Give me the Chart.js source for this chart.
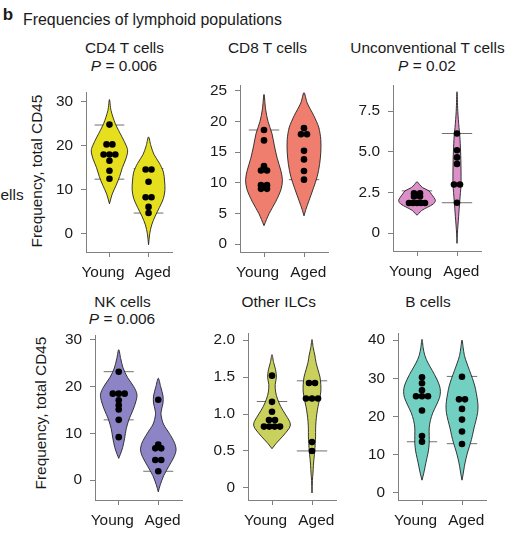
<!DOCTYPE html>
<html><head><meta charset="utf-8">
<script src="https://cdn.jsdelivr.net/npm/chart.js@4.4.1/dist/chart.umd.min.js"></script>
<style>
html,body{margin:0;padding:0;background:#fff;}
body{width:508px;height:537px;position:relative;overflow:hidden;font-family:"Liberation Sans",Arial,Helvetica,sans-serif;color:#1a1a1a;}
.t{position:absolute;white-space:nowrap;line-height:1;transform:translate(-50%,-50%);font-size:15.4px;}
.tl{position:absolute;white-space:nowrap;line-height:1;transform:translate(0,-50%);font-size:15.4px;}
.r{transform:translate(-50%,-50%) rotate(-90deg);}
canvas{position:absolute;}
</style></head><body>
<div class="t" style="left:8px;top:14px;font-weight:bold;font-size:17px;">b</div>
<div class="tl" style="left:23px;top:20px;font-size:15.9px;">Frequencies of lymphoid populations</div>
<div class="tl" style="left:0.5px;top:195px;">ells</div>
<div class="t r" style="left:36.5px;top:171px;">Frequency, total CD45</div>
<div class="t r" style="left:41px;top:413px;">Frequency, total CD45</div>
<div id="texts"></div>
<script>
// ---- categories ----
const groups = ['Young', 'Aged'];

// ---- CD4 T cells ----
const cd4YoungPts = [24.8, 20.3, 20.3, 18.0, 18.0, 18.0, 16.6, 14.3, 12.5];
const cd4AgedPts = [14.6, 14.6, 11.8, 8.3, 8.3, 6.1, 4.7];
const cd4YoungViolin = [[6.8,0],[9,0.07],[11,0.17],[13,0.26],[15,0.33],[17,0.42],[18.8,0.466],[20,0.43],[22,0.32],[25,0.15],[28,0.04],[30.5,0]];
const cd4AgedViolin = [[-2.5,0],[0,0.03],[2,0.08],[4,0.17],[6,0.28],[8,0.38],[10,0.42],[12,0.41],[14,0.38],[16,0.28],[18,0.14],[20,0.06],[22,0]];
const cd4YoungLines = [12.4, 24.7];
const cd4AgedLines = [4.7, 14.8];
const cd4Ticks = [0, 10, 20, 30];

// ---- CD8 T cells ----
const cd8YoungPts = [18.6, 16.9, 12.7, 12.0, 12.0, 9.6, 9.6, 9.0, 9.0];
const cd8AgedPts = [18.9, 17.9, 17.9, 15.2, 13.8, 11.9, 10.5];
const cd8YoungViolin = [[3.0,0],[5,0.13],[7,0.3],[9,0.43],[10.5,0.46],[12,0.42],[14,0.33],[16,0.26],[18,0.2],[20,0.1],[22,0.04],[24.4,0]];
const cd8AgedViolin = [[4.6,0],[5.5,0.04],[7,0.12],[9,0.23],[11,0.33],[13,0.39],[15,0.42],[17,0.42],[19,0.37],[21,0.24],[23,0.08],[24.7,0]];
const cd8YoungLines = [9.0, 18.6];
const cd8AgedLines = [10.5, 18.9];
const cd8Ticks = [0, 5, 10, 15, 20, 25];

// ---- Unconventional T cells ----
const unYoungPts = [2.45, 2.45, 2.25, 2.25, 1.85, 1.85, 1.85, 1.85, 1.85];
const unAgedPts = [6.13, 5.1, 4.66, 4.26, 2.99, 2.99, 1.87];
const unYoungViolin = [[1.1,0],[1.2,0.04],[1.4,0.12],[1.6,0.27],[1.8,0.41],[2.0,0.46],[2.2,0.42],[2.4,0.36],[2.6,0.30],[2.8,0.14],[3.0,0.06],[3.16,0]];
const unAgedViolin = [[-0.63,0],[0,0.01],[1,0.04],[2,0.07],[3,0.1],[4,0.1],[5,0.09],[6,0.07],[6.5,0.05],[7.5,0.02],[8.7,0]];
const unYoungLines = [1.85, 2.6];
const unAgedLines = [1.87, 6.13];
const unTicks = [0, 2.5, 5.0, 7.5];

// ---- NK cells ----
const nkYoungPts = [23.2, 18.5, 18.5, 18.5, 17.1, 16.0, 15.1, 12.9, 9.2];
const nkAgedPts = [17.2, 7.6, 6.8, 6.8, 4.3, 4.3, 1.9];
const nkYoungViolin = [[4.66,0],[5.5,0.04],[7,0.10],[9,0.15],[11,0.19],[13,0.26],[15,0.36],[17,0.44],[18.4,0.46],[20,0.38],[22,0.22],[24,0.11],[26,0.05],[27.9,0]];
const nkAgedViolin = [[-2.5,0],[-1,0.05],[1,0.14],[3,0.27],[5,0.40],[6.5,0.45],[8,0.41],[10,0.28],[12,0.13],[14,0.07],[15,0.08],[16.5,0.12],[18,0.12],[20,0.06],[21.8,0]];
const nkYoungLines = [12.9, 23.2];
const nkAgedLines = [1.9, 7.6];
const nkTicks = [0, 10, 20, 30];

// ---- Other ILCs ----
const ilcYoungPts = [1.52, 1.165, 1.03, 0.92, 0.92, 0.83, 0.83, 0.83, 0.83];
const ilcAgedPts = [1.42, 1.42, 1.21, 1.21, 1.21, 0.62, 0.5];
const ilcYoungViolin = [[0.53,0],[0.6,0.10],[0.7,0.27],[0.8,0.42],[0.85,0.46],[0.9,0.44],[1.0,0.33],[1.1,0.22],[1.2,0.14],[1.3,0.09],[1.4,0.08],[1.5,0.11],[1.6,0.09],[1.7,0.04],[1.805,0]];
const ilcAgedViolin = [[-0.07,0],[0.1,0.01],[0.2,0.025],[0.3,0.035],[0.4,0.05],[0.5,0.07],[0.6,0.08],[0.7,0.09],[0.8,0.09],[0.9,0.10],[1.0,0.12],[1.1,0.15],[1.2,0.19],[1.3,0.22],[1.4,0.22],[1.5,0.20],[1.6,0.15],[1.7,0.10],[1.8,0.07],[1.9,0.03],[2.01,0]];
const ilcYoungLines = [0.83, 1.17];
const ilcAgedLines = [0.5, 1.45];
const ilcTicks = [0, 0.5, 1.0, 1.5, 2.0];

// ---- B cells ----
const bYoungPts = [30.3, 28.7, 26.9, 25.3, 25.3, 25.3, 21.6, 14.9, 13.4];
const bAgedPts = [30.4, 24.5, 24.5, 22.0, 19.2, 16.1, 12.8];
const bYoungViolin = [[3.35,0],[5,0.04],[7,0.08],[9,0.12],[11,0.16],[13,0.18],[15,0.18],[17,0.18],[19,0.21],[21,0.27],[23,0.36],[25,0.44],[26.5,0.46],[28,0.44],[30,0.36],[32,0.26],[34,0.15],[36,0.07],[38,0.03],[40.2,0]];
const bAgedViolin = [[3.35,0],[5,0.03],[7,0.06],[9,0.10],[11,0.15],[13,0.21],[15,0.26],[17,0.30],[19,0.35],[21,0.39],[22.5,0.40],[24,0.39],[26,0.36],[28,0.32],[30,0.26],[32,0.19],[34,0.12],[36,0.06],[38,0.03],[40,0]];
const bYoungLines = [13.4, 30.0];
const bAgedLines = [12.9, 30.5];
const bTicks = [0, 10, 20, 30, 40];

// ---- panel layout / style ----
const panels = [
  {title:'CD4 T cells', p:'0.006', tx:124.5, ty:48, color:'#e6df1e', area:{left:86, top:85, w:86, h:167}, yMin:-4.15, yMax:32.15, ticks:cd4Ticks, dec:0,
   pts:[cd4YoungPts, cd4AgedPts], vio:[cd4YoungViolin, cd4AgedViolin], lines:[cd4YoungLines, cd4AgedLines]},
  {title:'CD8 T cells', p:null, tx:267.5, ty:48, color:'#ef7e6f', area:{left:240, top:78, w:88, h:174}, yMin:-1.3, yMax:25.9, ticks:cd8Ticks, dec:0,
   pts:[cd8YoungPts, cd8AgedPts], vio:[cd8YoungViolin, cd8AgedViolin], lines:[cd8YoungLines, cd8AgedLines]},
  {title:'Unconventional T cells', p:'0.02', tx:427.5, ty:48, color:'#dc8fc8', area:{left:393, top:78, w:88, h:173}, yMin:-1.1, yMax:9.1, ticks:unTicks, dec:1,
   pts:[unYoungPts, unAgedPts], vio:[unYoungViolin, unAgedViolin], lines:[unYoungLines, unAgedLines]},
  {title:'NK cells', p:'0.006', tx:122.5, ty:301.5, color:'#8d84c6', area:{left:95, top:328, w:87, h:172}, yMin:-4.25, yMax:31.0, ticks:nkTicks, dec:0,
   pts:[nkYoungPts, nkAgedPts], vio:[nkYoungViolin, nkAgedViolin], lines:[nkYoungLines, nkAgedLines]},
  {title:'Other ILCs', p:null, tx:278.7, ty:301.5, color:'#c9d05b', area:{left:248, top:326, w:88, h:174}, yMin:-0.165, yMax:2.095, ticks:ilcTicks, dec:1,
   pts:[ilcYoungPts, ilcAgedPts], vio:[ilcYoungViolin, ilcAgedViolin], lines:[ilcYoungLines, ilcAgedLines]},
  {title:'B cells', p:null, tx:428, ty:301.5, color:'#72d0c2', area:{left:398, top:326, w:88, h:174}, yMin:-1.84, yMax:41.8, ticks:bTicks, dec:0,
   pts:[bYoungPts, bAgedPts], vio:[bYoungViolin, bAgedViolin], lines:[bYoungLines, bAgedLines]}
];

const AXIS = '#808080';
const TXT = '#1a1a1a';
const FONT = {family:'"Liberation Sans", Arial, Helvetica, sans-serif', size:15.4};
const PADL = 60, PADT = 10, PADR = 12, PADB = 40;
const LINE_HALF = 0.38;
// x tick labels sit slightly outward from their ticks in the reference
const labelText = ['Young   ', '  Aged'];

function violinPath(center, shape) {
  const right = shape.map(([y, w]) => ({x: center + w, y}));
  const left = shape.slice().reverse().map(([y, w]) => ({x: center - w, y}));
  return right.concat(left.slice(1));
}
function dotPath(center, vals) {
  const counts = {}, seen = {};
  vals.forEach(v => { counts[v] = (counts[v] || 0) + 1; });
  return vals.map(v => {
    const n = counts[v];
    const i = seen[v] = (seen[v] === undefined ? 0 : seen[v] + 1);
    const s = n <= 3 ? 0.15 : 0.4 / (n - 1);
    return {x: center + (i - (n - 1) / 2) * s, y: v};
  });
}

const texts = document.getElementById('texts');
panels.forEach((P, k) => {
  const t = document.createElement('div');
  t.className = 't'; t.style.left = P.tx + 'px'; t.style.top = P.ty + 'px'; t.textContent = P.title;
  texts.appendChild(t);
  if (P.p) {
    const p = document.createElement('div');
    p.className = 't'; p.style.left = (P.tx - 0.5) + 'px'; p.style.top = (P.ty + 17.5) + 'px';
    p.innerHTML = '<i>P</i> = ' + P.p;
    texts.appendChild(p);
  }
  const cv = document.createElement('canvas');
  const W = PADL + P.area.w + PADR, H = PADT + P.area.h + PADB;
  cv.width = W; cv.height = H;
  cv.style.left = (P.area.left - PADL) + 'px';
  cv.style.top = (P.area.top - PADT) + 'px';
  cv.style.width = W + 'px'; cv.style.height = H + 'px';
  document.body.appendChild(cv);

  const datasets = [];
  groups.forEach((g, gi) => {
    const c = gi + 1;
    P.lines[gi].forEach(v => datasets.push({
      type:'line', data:[{x:c - LINE_HALF, y:v}, {x:c + LINE_HALF, y:v}],
      borderColor:'#707070', borderWidth:1, pointRadius:0, fill:false, order:3
    }));
    datasets.push({
      type:'line', data: violinPath(c, P.vio[gi]), borderColor:'#222', borderWidth:0.9,
      backgroundColor:P.color, fill:'shape', tension:0.3, pointRadius:0, order:2
    });
    datasets.push({
      type:'line', data: dotPath(c, P.pts[gi]), showLine:false, pointRadius:3.3,
      pointBackgroundColor:'#000', pointBorderWidth:0, pointBorderColor:'#000', order:1
    });
  });

  const fmt = v => (v === 0 ? '0' : (P.dec ? v.toFixed(P.dec) : String(v)));
  new Chart(cv, {
    type:'line',
    data:{datasets},
    options:{
      responsive:false, maintainAspectRatio:false, animation:false, devicePixelRatio:1,
      layout:{padding:{left:0, top:PADT, right:PADR, bottom:0}, autoPadding:false},
      plugins:{legend:{display:false}, tooltip:{enabled:false}, title:{display:false}},
      scales:{
        x:{type:'linear', min:0.4, max:2.6,
           afterBuildTicks: s => { s.ticks = groups.map((g, i) => ({value:i + 1})); },
           afterFit: s => { s.height = PADB; },
           ticks:{callback: v => labelText[Math.round(v) - 1], color:TXT, font:FONT, padding:7, autoSkip:false, maxRotation:0},
           grid:{drawOnChartArea:false, drawTicks:true, tickLength:5, color:AXIS, lineWidth:1},
           border:{display:true, color:AXIS, width:1}},
        y:{type:'linear', min:P.yMin, max:P.yMax,
           afterBuildTicks: s => { s.ticks = P.ticks.map(v => ({value:v})); },
           afterFit: s => { s.width = PADL; },
           ticks:{callback: fmt, color:TXT, font:FONT, padding:8, autoSkip:false},
           grid:{drawOnChartArea:false, drawTicks:true, tickLength:5, color:AXIS, lineWidth:1},
           border:{display:true, color:AXIS, width:1}}
      }
    }
  });
});
</script>
</body></html>
